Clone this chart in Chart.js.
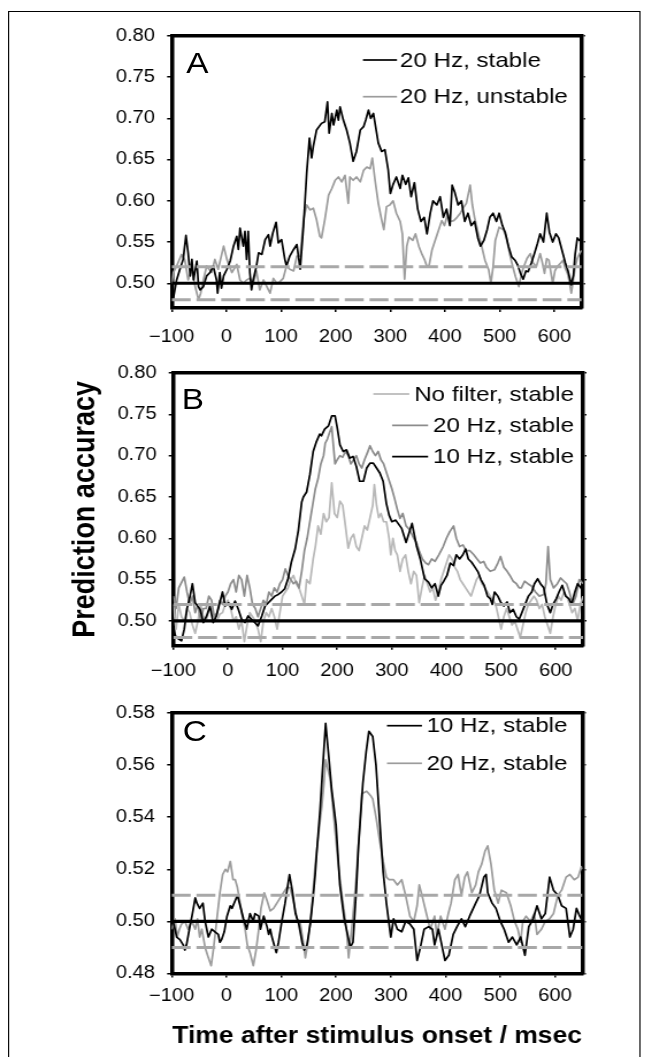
<!DOCTYPE html>
<html>
<head>
<meta charset="utf-8">
<script src="https://cdn.jsdelivr.net/npm/chart.js@4.4.1/dist/chart.umd.min.js"></script>
<style>
  html, body { margin: 0; padding: 0; background: #fff; overflow: hidden; }
  /* the original figure is stretched horizontally, so draw narrow and stretch */
  #fig { position: absolute; left: 0; top: 0; width: 562px; height: 1057px;
         transform: scaleX(1.15); transform-origin: 0 0;
         font-family: "Liberation Sans", Arial, sans-serif; }
  #frame { position: absolute; left: 7px; top: 11px; width: 550px; height: 1100px;
           border: 1.5px solid #000; box-sizing: border-box; }
  canvas { position: absolute; left: 0; }
  .letter { position: absolute; font-size: 29px; line-height: 29px; color: #000; }
</style>
</head>
<body>
<div id="fig">
  <div id="frame"></div>
  <canvas id="chartA" width="562" height="352" style="top:0px"></canvas>
  <canvas id="chartB" width="562" height="340" style="top:352px"></canvas>
  <canvas id="chartC" width="562" height="365" style="top:692px"></canvas>
  <div class="letter" style="left:162px; top:49px">A</div>
  <div class="letter" style="left:158px; top:385px">B</div>
  <div class="letter" style="left:159px; top:717px">C</div>
</div>
<script>
// axes
const timeRange = [-100, 650];
const timeTicks = [-100, 0, 100, 200, 300, 400, 500, 600];
const accTicksAB = [0.50, 0.55, 0.60, 0.65, 0.70, 0.75, 0.80];
const accTicksC = [0.48, 0.50, 0.52, 0.54, 0.56, 0.58];
const chanceLevel = 0.5;
const bandAB = [0.48, 0.52];
const bandC = [0.49, 0.51];

// Panel A: 20 Hz stable / unstable
const aStableT = [-100,-97,-91,-85,-79,-74,-70,-66,-63,-60,-54,-51,-48,-42,-36,-30,-24,-18,-16,-12,-9,-5,1,7,13,19,22,25,31,34,37,40,43,46,49,55,59,65,71,77,80,85,91,95,101,107,110,116,123,129,135,141,144,147,152,156,159,165,174,180,185,188,193,196,202,205,208,214,220,226,232,238,245,251,255,260,264,269,274,278,284,290,296,300,305,311,318,322,328,333,338,344,350,356,362,367,373,378,385,391,397,403,409,413,418,424,430,436,442,448,454,460,465,471,477,482,488,494,499,505,510,516,522,528,533,538,543,548,552,558,563,569,574,580,586,591,597,603,608,614,620,625,631,635,638,642,646,650];
const aStableV = [0.472,0.482,0.504,0.517,0.529,0.558,0.537,0.509,0.529,0.504,0.527,0.496,0.492,0.496,0.509,0.513,0.521,0.504,0.488,0.513,0.494,0.509,0.517,0.527,0.545,0.557,0.541,0.567,0.545,0.563,0.529,0.563,0.513,0.492,0.504,0.521,0.537,0.535,0.553,0.559,0.545,0.561,0.574,0.549,0.553,0.529,0.521,0.533,0.541,0.547,0.517,0.569,0.601,0.634,0.676,0.652,0.666,0.686,0.694,0.696,0.720,0.682,0.706,0.692,0.710,0.698,0.714,0.698,0.686,0.670,0.648,0.660,0.686,0.690,0.698,0.710,0.700,0.706,0.686,0.670,0.660,0.662,0.638,0.609,0.620,0.629,0.615,0.631,0.620,0.628,0.605,0.622,0.590,0.575,0.580,0.560,0.585,0.600,0.595,0.605,0.580,0.590,0.570,0.619,0.610,0.595,0.600,0.575,0.585,0.570,0.575,0.555,0.545,0.552,0.565,0.580,0.585,0.575,0.585,0.570,0.562,0.545,0.532,0.528,0.522,0.512,0.505,0.515,0.514,0.525,0.535,0.548,0.560,0.550,0.585,0.562,0.550,0.560,0.555,0.540,0.525,0.515,0.498,0.510,0.535,0.555,0.552,0.550];
const aUnstableT = [-100,-97,-91,-82,-76,-70,-63,-57,-51,-47,-42,-36,-27,-21,-15,-5,1,10,19,25,31,37,43,49,55,61,68,74,80,86,92,98,104,110,116,123,129,135,141,147,153,159,165,171,174,180,187,193,199,205,211,217,223,226,232,238,245,251,257,263,267,272,278,284,288,293,299,305,311,318,322,326,330,334,341,346,352,358,363,367,371,376,381,386,394,399,405,410,416,422,428,434,439,446,450,454,461,467,473,480,484,488,492,499,507,512,518,524,529,535,540,544,550,556,561,567,574,578,582,586,590,597,601,605,612,616,620,624,628,631,635,638,642,646,650];
const aUnstableV = [0.500,0.513,0.521,0.535,0.528,0.504,0.517,0.496,0.480,0.488,0.504,0.521,0.513,0.529,0.517,0.545,0.529,0.513,0.523,0.504,0.500,0.504,0.506,0.499,0.515,0.492,0.504,0.496,0.488,0.506,0.500,0.502,0.506,0.521,0.517,0.515,0.533,0.533,0.577,0.595,0.589,0.591,0.577,0.557,0.555,0.577,0.607,0.615,0.625,0.629,0.623,0.631,0.597,0.629,0.625,0.629,0.623,0.637,0.641,0.639,0.652,0.625,0.597,0.577,0.565,0.593,0.595,0.600,0.585,0.575,0.560,0.505,0.545,0.556,0.552,0.560,0.545,0.535,0.528,0.520,0.522,0.540,0.550,0.560,0.576,0.570,0.585,0.575,0.576,0.580,0.585,0.592,0.597,0.619,0.595,0.580,0.560,0.545,0.528,0.516,0.500,0.520,0.552,0.568,0.565,0.556,0.536,0.520,0.508,0.496,0.512,0.520,0.530,0.536,0.525,0.520,0.536,0.525,0.512,0.530,0.528,0.500,0.515,0.520,0.525,0.528,0.518,0.512,0.500,0.488,0.505,0.520,0.530,0.536,0.540];

// Panel B: no filter / 20 Hz / 10 Hz, all stable
const bNoFilterT = [-100,-95,-90,-85,-80,-75,-70,-65,-60,-55,-50,-45,-40,-35,-30,-25,-20,-15,-10,-5,0,5,10,15,20,25,30,35,40,45,50,55,60,65,70,75,80,85,90,95,100,105,110,115,120,125,130,135,140,144,150,156,160,165,170,175,180,185,190,195,200,205,210,215,220,225,230,235,240,245,250,255,260,265,268,272,276,280,285,290,295,298,302,306,310,315,320,325,330,335,340,345,350,355,360,365,370,375,380,385,390,395,400,405,410,415,420,425,430,435,440,445,450,455,460,465,470,475,480,485,490,495,500,505,510,515,520,525,530,535,540,545,550,555,560,565,570,575,580,585,590,595,600,605,610,615,620,625,630,635,640,645,650];
const bNoFilterV = [0.520,0.490,0.520,0.505,0.500,0.515,0.510,0.495,0.485,0.500,0.520,0.505,0.500,0.512,0.515,0.505,0.500,0.508,0.510,0.520,0.525,0.515,0.500,0.505,0.490,0.500,0.475,0.495,0.510,0.505,0.500,0.490,0.475,0.500,0.510,0.505,0.515,0.505,0.490,0.510,0.530,0.535,0.540,0.550,0.555,0.545,0.540,0.530,0.520,0.550,0.545,0.575,0.590,0.615,0.605,0.630,0.620,0.625,0.667,0.630,0.625,0.645,0.640,0.615,0.588,0.600,0.605,0.590,0.585,0.600,0.615,0.610,0.625,0.640,0.665,0.640,0.625,0.630,0.620,0.620,0.600,0.580,0.600,0.585,0.580,0.560,0.575,0.580,0.560,0.545,0.560,0.555,0.522,0.540,0.555,0.545,0.535,0.540,0.525,0.535,0.550,0.560,0.570,0.580,0.575,0.565,0.560,0.550,0.545,0.540,0.535,0.530,0.540,0.550,0.555,0.545,0.540,0.535,0.530,0.525,0.520,0.505,0.490,0.505,0.515,0.505,0.495,0.500,0.490,0.480,0.495,0.510,0.520,0.525,0.530,0.525,0.515,0.520,0.505,0.495,0.485,0.505,0.520,0.530,0.525,0.535,0.530,0.520,0.510,0.515,0.500,0.520,0.530];
const bTwentyT = [-100,-95,-90,-80,-75,-70,-65,-60,-55,-50,-45,-40,-35,-30,-25,-20,-15,-10,-5,0,5,10,15,20,25,30,35,40,45,50,55,60,65,70,75,80,85,90,95,100,105,110,115,120,125,130,135,140,145,150,155,160,165,170,175,178,182,186,190,193,196,200,205,210,215,220,225,230,235,240,245,250,255,260,265,270,275,280,285,290,295,300,305,310,315,320,326,333,340,345,350,356,362,367,373,379,386,394,400,406,413,418,424,430,436,443,450,456,462,468,473,480,488,494,499,505,511,516,522,528,533,537,543,549,556,563,570,578,582,586,590,596,603,609,615,620,625,631,637,643,650];
const bTwentyV = [0.530,0.515,0.540,0.553,0.535,0.520,0.530,0.510,0.520,0.500,0.515,0.515,0.530,0.525,0.505,0.510,0.525,0.520,0.530,0.535,0.545,0.550,0.535,0.555,0.550,0.530,0.555,0.540,0.520,0.515,0.505,0.515,0.525,0.520,0.535,0.530,0.540,0.535,0.545,0.550,0.563,0.555,0.550,0.545,0.548,0.540,0.560,0.585,0.600,0.620,0.640,0.660,0.672,0.690,0.700,0.715,0.720,0.728,0.735,0.712,0.690,0.695,0.700,0.698,0.705,0.700,0.690,0.695,0.700,0.690,0.685,0.695,0.703,0.712,0.705,0.700,0.705,0.695,0.690,0.680,0.670,0.660,0.648,0.635,0.624,0.630,0.615,0.610,0.600,0.595,0.585,0.575,0.570,0.568,0.575,0.572,0.580,0.590,0.600,0.608,0.615,0.600,0.590,0.592,0.585,0.585,0.580,0.575,0.570,0.572,0.565,0.560,0.562,0.570,0.578,0.565,0.560,0.555,0.548,0.545,0.540,0.540,0.548,0.545,0.542,0.535,0.530,0.532,0.545,0.590,0.550,0.540,0.545,0.552,0.548,0.545,0.535,0.520,0.530,0.550,0.545];
const bTenT = [-100,-95,-90,-85,-80,-75,-70,-65,-60,-51,-45,-39,-33,-27,-21,-15,-10,-5,1,7,13,19,25,31,37,43,49,55,62,68,74,80,86,92,98,104,110,116,123,129,135,138,144,150,156,162,168,171,177,184,190,196,200,205,211,217,223,229,235,241,248,254,260,266,272,278,284,290,295,300,307,318,326,337,345,352,360,367,373,379,385,390,395,401,407,413,418,424,430,435,440,446,452,458,463,469,475,480,484,488,494,499,505,511,516,522,528,533,538,544,550,556,561,567,572,578,584,590,595,601,606,612,618,624,629,635,640,646,650];
const bTenV = [0.490,0.480,0.478,0.476,0.490,0.515,0.528,0.545,0.522,0.514,0.498,0.506,0.518,0.498,0.506,0.522,0.535,0.518,0.522,0.514,0.524,0.514,0.502,0.498,0.506,0.502,0.498,0.494,0.506,0.518,0.522,0.526,0.530,0.532,0.535,0.539,0.551,0.571,0.587,0.610,0.644,0.650,0.656,0.677,0.705,0.717,0.726,0.724,0.732,0.736,0.748,0.748,0.734,0.713,0.705,0.707,0.697,0.699,0.687,0.669,0.669,0.685,0.691,0.691,0.685,0.679,0.669,0.642,0.628,0.620,0.622,0.612,0.595,0.618,0.591,0.575,0.551,0.547,0.540,0.545,0.530,0.543,0.548,0.555,0.570,0.567,0.580,0.575,0.580,0.587,0.575,0.571,0.565,0.559,0.550,0.543,0.530,0.527,0.520,0.535,0.530,0.523,0.518,0.523,0.510,0.514,0.505,0.502,0.510,0.520,0.530,0.535,0.545,0.551,0.545,0.540,0.520,0.510,0.520,0.527,0.535,0.543,0.530,0.527,0.520,0.535,0.545,0.540,0.535];

// Panel C: 10 Hz / 20 Hz stable
const cTenT = [-100,-94,-91,-85,-79,-76,-73,-66,-63,-57,-54,-49,-43,-39,-33,-27,-21,-15,-12,-9,-4,1,7,10,16,20,25,31,37,43,49,52,59,62,68,74,77,80,83,91,95,101,107,115,120,126,132,138,142,147,153,158,162,165,171,176,181,186,192,200,207,215,221,226,231,237,241,249,255,260,267,273,279,286,292,300,305,312,320,327,335,342,348,354,361,369,376,380,387,395,399,406,414,421,429,436,444,455,462,470,474,477,485,492,500,507,515,522,530,537,545,552,560,567,575,582,590,597,605,612,620,627,633,639,645,650];
const cTenV = [0.502,0.497,0.494,0.493,0.491,0.489,0.491,0.499,0.502,0.509,0.507,0.505,0.507,0.500,0.494,0.497,0.496,0.495,0.492,0.493,0.496,0.502,0.506,0.505,0.508,0.510,0.506,0.501,0.497,0.503,0.500,0.503,0.502,0.497,0.502,0.498,0.495,0.497,0.494,0.488,0.492,0.500,0.507,0.518,0.512,0.503,0.499,0.492,0.489,0.491,0.499,0.509,0.518,0.527,0.543,0.560,0.576,0.565,0.551,0.537,0.514,0.501,0.495,0.490,0.492,0.512,0.529,0.553,0.565,0.573,0.571,0.560,0.541,0.519,0.507,0.494,0.501,0.497,0.496,0.500,0.499,0.497,0.485,0.490,0.497,0.498,0.497,0.491,0.497,0.489,0.485,0.487,0.495,0.498,0.501,0.498,0.502,0.507,0.510,0.517,0.518,0.511,0.507,0.505,0.500,0.497,0.492,0.494,0.491,0.494,0.487,0.498,0.501,0.506,0.501,0.503,0.517,0.512,0.510,0.506,0.505,0.494,0.497,0.505,0.502,0.500];
const cTwentyT = [-100,-94,-90,-86,-82,-76,-70,-63,-57,-53,-49,-45,-39,-33,-28,-24,-18,-12,-7,-2,2,7,12,16,20,25,28,34,38,43,49,54,59,63,69,74,80,86,92,98,104,110,116,123,129,135,141,144,150,156,162,168,174,178,181,189,196,204,211,219,223,230,237,243,247,256,264,267,273,279,286,292,297,305,312,320,327,335,342,348,352,357,365,372,380,384,391,399,405,410,417,423,429,435,440,448,455,460,466,472,477,483,489,496,502,511,519,526,532,537,541,547,555,562,567,575,582,590,597,605,612,620,627,635,642,648,650];
const cTwentyV = [0.497,0.501,0.494,0.497,0.499,0.500,0.497,0.500,0.497,0.501,0.494,0.497,0.490,0.486,0.483,0.489,0.500,0.511,0.518,0.520,0.519,0.523,0.516,0.516,0.513,0.507,0.503,0.497,0.491,0.488,0.483,0.489,0.497,0.505,0.511,0.508,0.504,0.505,0.507,0.509,0.511,0.513,0.513,0.507,0.501,0.499,0.491,0.486,0.494,0.506,0.522,0.533,0.544,0.553,0.562,0.555,0.540,0.522,0.510,0.497,0.486,0.500,0.517,0.536,0.549,0.550,0.548,0.547,0.540,0.532,0.523,0.517,0.516,0.516,0.514,0.516,0.510,0.502,0.500,0.506,0.514,0.510,0.503,0.497,0.502,0.495,0.502,0.497,0.503,0.507,0.516,0.518,0.510,0.517,0.519,0.511,0.514,0.519,0.522,0.527,0.529,0.522,0.512,0.507,0.512,0.511,0.506,0.500,0.497,0.492,0.500,0.502,0.500,0.503,0.495,0.497,0.500,0.501,0.503,0.510,0.512,0.517,0.518,0.516,0.517,0.521,0.520];

const BLACK = '#000';
const tickFont = { family: '"Liberation Sans", Arial, sans-serif', size: 17.5 };
const legendFont = '21px "Liberation Sans", Arial, sans-serif';

// legend drawn inside the plot, line sample left of the text
const insideLegend = {
  id: 'insideLegend',
  afterDraw(chart, args, opts) {
    const ctx = chart.ctx;
    const items = chart.data.datasets.filter(d => d.inLegend);
    ctx.save();
    ctx.font = legendFont;
    ctx.textBaseline = 'middle';
    ctx.textAlign = 'left';
    items.forEach((d, i) => {
      const y = opts.top + i * opts.rowGap;
      const w = ctx.measureText(d.label).width;
      const left = opts.align === 'right' ? opts.textX - w : opts.textX;
      ctx.fillStyle = BLACK;
      ctx.fillText(d.label, left, y);
      ctx.beginPath();
      ctx.strokeStyle = d.borderColor;
      ctx.lineWidth = 1.7;
      ctx.moveTo(left - opts.gap - opts.lineLen, y - 1);
      ctx.lineTo(left - opts.gap, y - 1);
      ctx.stroke();
    });
    ctx.restore();
  }
};

function pts(t, v) {
  return t.map((x, i) => ({ x: x, y: v[i] }));
}

function refLine(y, color, width, dash) {
  return { label: '', data: timeRange.map(x => ({ x: x, y: y })), borderColor: color,
           borderWidth: width, borderDash: dash, inLegend: false, order: 0 };
}

function makePanel(id, cfg) {
  const data = cfg.series.map((s, i) => ({
    label: s.label, data: pts(s.t, s.v), borderColor: s.color, backgroundColor: s.color,
    borderWidth: 1.7, inLegend: true, order: s.order
  }));
  cfg.band.forEach(b => data.push(refLine(b, '#a8a8a8', 3, [16.5, 5])));
  data.push(refLine(chanceLevel, BLACK, 3.2, []));

  const yTicks = s => { s.ticks = cfg.yTicks.map(v => ({ value: v })); };
  const axisGrid = { display: true, drawOnChartArea: false, drawTicks: true, tickLength: 4, color: BLACK, lineWidth: 1.5 };
  const axisBorder = { display: true, color: BLACK, width: 3.5 };

  new Chart(document.getElementById(id), {
    type: 'line',
    data: { datasets: data },
    plugins: [insideLegend],
    options: {
      responsive: false,
      animation: false,
      events: [],
      layout: { padding: { top: cfg.top, right: 562 - cfg.right, left: 0, bottom: 0 } },
      elements: { point: { radius: 0 }, line: { tension: 0, borderJoinStyle: 'round' } },
      plugins: { legend: { display: false }, tooltip: { enabled: false }, insideLegend: cfg.legend },
      scales: {
        x: {
          type: 'linear', position: 'bottom', min: timeRange[0], max: timeRange[1],
          afterBuildTicks: s => { s.ticks = timeTicks.map(v => ({ value: v })); },
          afterFit: s => { s.height = cfg.xHeight; },
          ticks: { font: tickFont, color: BLACK, padding: cfg.xPad, maxRotation: 0, autoSkip: false,
                   callback: v => (v < 0 ? '\u2212' + Math.abs(v) : String(v)) },
          grid: axisGrid,
          border: axisBorder,
          title: cfg.xTitle || { display: false }
        },
        xTop: {
          type: 'linear', position: 'top', min: timeRange[0], max: timeRange[1],
          afterFit: s => { s.height = 0; },
          ticks: { display: false }, grid: { display: false, drawTicks: false }, border: axisBorder
        },
        y: {
          type: 'linear', position: 'left', min: cfg.yMin, max: cfg.yMax,
          afterBuildTicks: yTicks,
          afterFit: s => { s.width = cfg.left; },
          ticks: { font: tickFont, color: BLACK, padding: 10.5, callback: v => v.toFixed(2) },
          grid: axisGrid,
          border: axisBorder,
          title: cfg.yTitle || { display: false }
        },
        yR: {
          type: 'linear', position: 'right', min: cfg.yMin, max: cfg.yMax,
          afterBuildTicks: yTicks,
          afterFit: s => { s.width = 0; },
          ticks: { display: false },
          grid: { display: true, drawOnChartArea: false, drawTicks: true, tickLength: 3, color: BLACK, lineWidth: 1.5 },
          border: axisBorder
        }
      }
    }
  });
}

makePanel('chartA', {
  top: 36, left: 149.3, right: 505.8, xHeight: 44, xPad: 14.5,
  yMin: 0.47, yMax: 0.80, yTicks: accTicksAB, band: bandAB,
  series: [
    { label: '20 Hz, stable', t: aStableT, v: aStableV, color: '#000', order: 1 },
    { label: '20 Hz, unstable', t: aUnstableT, v: aUnstableV, color: '#9c9c9c', order: 2 }
  ],
  legend: { align: 'left', textX: 347.8, lineLen: 29.6, gap: 2.6, top: 61, rowGap: 36.7 }
});

makePanel('chartB', {
  top: 19.7, left: 150.7, right: 507, xHeight: 46.3, xPad: 10.6,
  yMin: 0.47, yMax: 0.80, yTicks: accTicksAB, band: bandAB,
  series: [
    { label: 'No filter, stable', t: bNoFilterT, v: bNoFilterV, color: '#b8b8b8', order: 3 },
    { label: '20 Hz, stable', t: bTwentyT, v: bTwentyV, color: '#8c8c8c', order: 2 },
    { label: '10 Hz, stable', t: bTenT, v: bTenV, color: '#000', order: 1 }
  ],
  yTitle: { display: true, text: 'Prediction accuracy', color: BLACK,
            font: { family: '"Liberation Sans", Arial, sans-serif', size: 27, weight: 'bold' },
            padding: { top: 58.6, bottom: 0 } },
  legend: { align: 'right', textX: 499.1, lineLen: 31.3, gap: 4.3, top: 43, rowGap: 31.3 }
});

makePanel('chartC', {
  top: 9.7, left: 149.3, right: 506.5, xHeight: 83.5, xPad: 8.5,
  yMin: 0.48, yMax: 0.58, yTicks: accTicksC, band: bandC,
  series: [
    { label: '10 Hz, stable', t: cTenT, v: cTenV, color: '#000', order: 1 },
    { label: '20 Hz, stable', t: cTwentyT, v: cTwentyV, color: '#9c9c9c', order: 2 }
  ],
  xTitle: { display: true, text: 'Time after stimulus onset / msec', color: BLACK,
            font: { family: '"Liberation Sans", Arial, sans-serif', size: 23, weight: 'bold' },
            padding: { top: 0, bottom: 6.5 } },
  legend: { align: 'left', textX: 370.9, lineLen: 30.4, gap: 4, top: 34.7, rowGap: 37.6 }
});
</script>
</body>
</html>
